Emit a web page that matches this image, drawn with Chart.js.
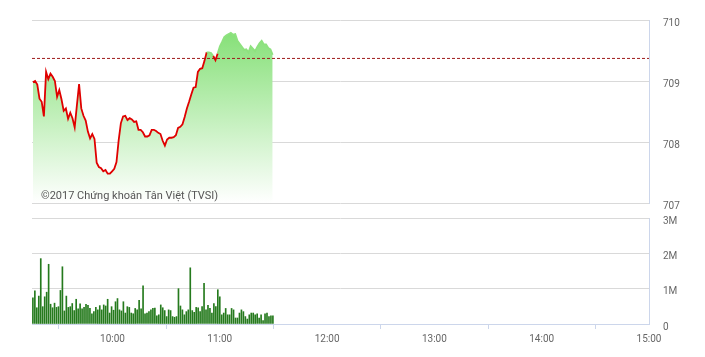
<!DOCTYPE html>
<html>
<head>
<meta charset="utf-8">
<script src="https://cdn.jsdelivr.net/npm/chart.js@4/dist/chart.umd.min.js"></script>
<style>
  body { margin: 0; background: #fff; }
  #price-chart { position: absolute; left: 0; top: 0; }
  #volume-chart { position: absolute; left: 0; top: 198px; }
</style>
</head>
<body>
<canvas id="price-chart" width="705" height="223"></canvas>
<canvas id="volume-chart" width="705" height="159"></canvas>
<script>
// session runs 9:15 -> 15:00, x values are minutes after midnight
var sessionStart = 555;
var sessionEnd = 900;
var hourTicks = [600, 660, 720, 780, 840, 900];
var priceTicks = [707, 708, 709, 710];
var volumeTicks = [0, 1000000, 2000000, 3000000];
var refPrice = 709.37;

// index price, one point every 1.23 min from 9:15
var priceStart = 555.5;
var priceStep = 1.23;
var prices = [
  708.98, 709.00, 708.94, 708.71, 708.66, 708.42, 709.15, 709.03, 709.12, 709.07,
  709.00, 708.74, 708.85, 708.70, 708.51, 708.55, 708.38, 708.48, 708.39, 708.24,
  708.60, 708.95, 708.55, 708.43, 708.35, 708.17, 708.06, 708.13, 708.05, 707.66,
  707.59, 707.57, 707.52, 707.54, 707.48, 707.48, 707.52, 707.56, 707.67, 708.03,
  708.31, 708.42, 708.43, 708.36, 708.39, 708.37, 708.33, 708.34, 708.20, 708.20,
  708.16, 708.09, 708.09, 708.11, 708.20, 708.20, 708.18, 708.15, 708.13, 708.02,
  707.94, 708.04, 708.07, 708.07, 708.08, 708.11, 708.23, 708.25, 708.29, 708.41,
  708.55, 708.66, 708.78, 708.89, 708.90, 709.15, 709.20, 709.21, 709.33, 709.47,
  709.47, 709.46, 709.41, 709.34, 709.45, 709.57, 709.64, 709.72, 709.75, 709.77,
  709.79, 709.76, 709.77, 709.66, 709.61, 709.56, 709.51, 709.52, 709.47, 709.57,
  709.53, 709.49, 709.56, 709.62, 709.66, 709.60, 709.60, 709.54, 709.52, 709.43
];

// volume in millions, one bar every 1.1 min from 9:15
var volumeStart = 555.5;
var volumeStep = 1.1;
var volumes = [
  0.74, 0.94, 0.46, 0.79, 1.85, 0.49, 0.77, 0.90, 1.69, 0.56,
  0.46, 0.59, 0.47, 0.49, 0.95, 1.62, 0.37, 0.79, 0.47, 0.49,
  0.58, 0.38, 0.70, 0.43, 0.57, 0.43, 0.47, 0.56, 0.53, 0.44,
  0.29, 0.35, 0.47, 0.40, 0.52, 0.40, 0.54, 0.51, 0.70, 0.31,
  0.49, 0.39, 0.63, 0.72, 0.40, 0.37, 0.63, 0.31, 0.49, 0.47,
  0.31, 0.29, 0.44, 0.40, 0.67, 0.43, 1.08, 0.29, 0.31, 0.35,
  0.40, 0.44, 0.45, 0.23, 0.26, 0.54, 0.46, 0.38, 0.21, 0.40,
  0.38, 0.21, 0.19, 0.21, 1.00, 0.51, 0.40, 0.26, 0.35, 0.40,
  1.59, 0.38, 0.33, 0.47, 0.46, 0.35, 0.49, 1.15, 0.40, 0.53,
  0.44, 0.31, 0.58, 0.49, 0.97, 0.77, 0.26, 0.31, 0.44, 0.26,
  0.26, 0.44, 0.40, 0.17, 0.17, 0.31, 0.40, 0.35, 0.21, 0.14,
  0.26, 0.31, 0.31, 0.26, 0.29, 0.17, 0.26, 0.10, 0.29, 0.31,
  0.21, 0.23, 0.23
];

var axisFont = { family: 'Roboto', size: 10 };
var labelColor = '#666666';
var gridColor = '#d9d9d9';
var axisColor = '#ccd6eb';

function hourLabel(v) {
  return Math.floor(v / 60) + ':00';
}

//////// PRICE CHART ////////////
var pricePoints = prices.map(function(p, i) {
  return { x: priceStart + i * priceStep, y: p };
});

var watermark = {
  id: 'watermark',
  afterDatasetsDraw: function(chart) {
    var ctx = chart.ctx;
    ctx.save();
    ctx.font = '11px Roboto';
    ctx.fillStyle = '#555555';
    ctx.textBaseline = 'alphabetic';
    ctx.fillText('©2017 Chứng khoán Tân Việt (TVSI)', chart.chartArea.left + 9, chart.chartArea.bottom - 4);
    ctx.restore();
  }
};

var priceChart = new Chart(document.getElementById('price-chart').getContext('2d'), {
  type: 'line',
  data: {
    datasets: [{
      // dashed reference level
      data: [{ x: sessionStart, y: refPrice }, { x: sessionEnd, y: refPrice }],
      borderColor: '#9e1a1a',
      borderWidth: 1,
      borderDash: [3, 2],
      pointRadius: 0,
      fill: false,
      order: 0
    }, {
      // price line, red under the reference, green over it
      data: pricePoints,
      borderColor: '#e00000',
      borderWidth: 1.8,
      pointRadius: 0,
      tension: 0,
      fill: false,
      order: 1,
      segment: {
        borderColor: function(c) {
          return (c.p0.parsed.y > refPrice && c.p1.parsed.y > refPrice) ? '#8ee27f' : '#e00000';
        }
      }
    }, {
      // area under the price
      data: pricePoints,
      borderWidth: 0,
      pointRadius: 0,
      tension: 0,
      fill: 'start',
      order: 2,
      backgroundColor: function(c) {
        var area = c.chart.chartArea;
        if (!area) return 'rgba(140,228,125,0.5)';
        var g = c.chart.ctx.createLinearGradient(0, area.top, 0, area.bottom);
        g.addColorStop(0, 'rgb(125,222,110)');
        g.addColorStop(1, 'rgba(255,255,255,1)');
        return g;
      }
    }]
  },
  options: {
    responsive: false,
    animation: false,
    layout: { padding: { top: 19, bottom: 8, left: 32, right: 0 } },
    plugins: { legend: { display: false }, tooltip: { enabled: false } },
    scales: {
      x: {
        type: 'linear',
        min: sessionStart,
        max: sessionEnd,
        display: false
      },
      y: {
        position: 'right',
        min: 707,
        max: 710,
        afterFit: function(scale) { scale.width = 56; },
        afterBuildTicks: function(scale) {
          scale.ticks = priceTicks.map(function(v) { return { value: v }; });
        },
        grid: { color: gridColor, drawTicks: false },
        border: { display: true, color: axisColor },
        ticks: { padding: 14, color: labelColor, font: axisFont, labelOffset: 3 }
      }
    }
  },
  plugins: [watermark]
});

//////// VOLUME CHART ////////////
var volumePoints = volumes.map(function(v, i) {
  return { x: volumeStart + i * volumeStep, y: v * 1000000 };
});

var volumeChart = new Chart(document.getElementById('volume-chart').getContext('2d'), {
  type: 'bar',
  data: {
    datasets: [{
      data: volumePoints,
      backgroundColor: '#257a1d',
      barThickness: 1,
      borderWidth: 0
    }]
  },
  options: {
    responsive: false,
    animation: false,
    layout: { padding: { top: 7, bottom: 0, left: 32, right: 0 } },
    plugins: { legend: { display: false }, tooltip: { enabled: false } },
    scales: {
      x: {
        type: 'linear',
        min: sessionStart,
        max: sessionEnd,
        offset: false,
        afterFit: function(scale) { scale.height = 33; },
        afterBuildTicks: function(scale) {
          scale.ticks = hourTicks.map(function(v) { return { value: v }; });
        },
        grid: { drawOnChartArea: false, drawTicks: true, tickLength: 5, tickColor: axisColor },
        border: { display: true, color: axisColor },
        ticks: {
          autoSkip: false,
          maxRotation: 0,
          padding: 4,
          color: labelColor,
          font: axisFont,
          callback: function(v) { return hourLabel(v); }
        }
      },
      y: {
        position: 'right',
        min: 0,
        max: 3000000,
        afterFit: function(scale) { scale.width = 56; },
        afterBuildTicks: function(scale) {
          scale.ticks = volumeTicks.map(function(v) { return { value: v }; });
        },
        grid: { color: gridColor, drawTicks: false },
        border: { display: true, color: axisColor },
        ticks: {
          padding: 14,
          color: labelColor,
          font: axisFont,
          labelOffset: 3,
          callback: function(v) { return v === 0 ? '0' : (v / 1000000) + 'M'; }
        }
      }
    }
  }
});
</script>
</body>
</html>
